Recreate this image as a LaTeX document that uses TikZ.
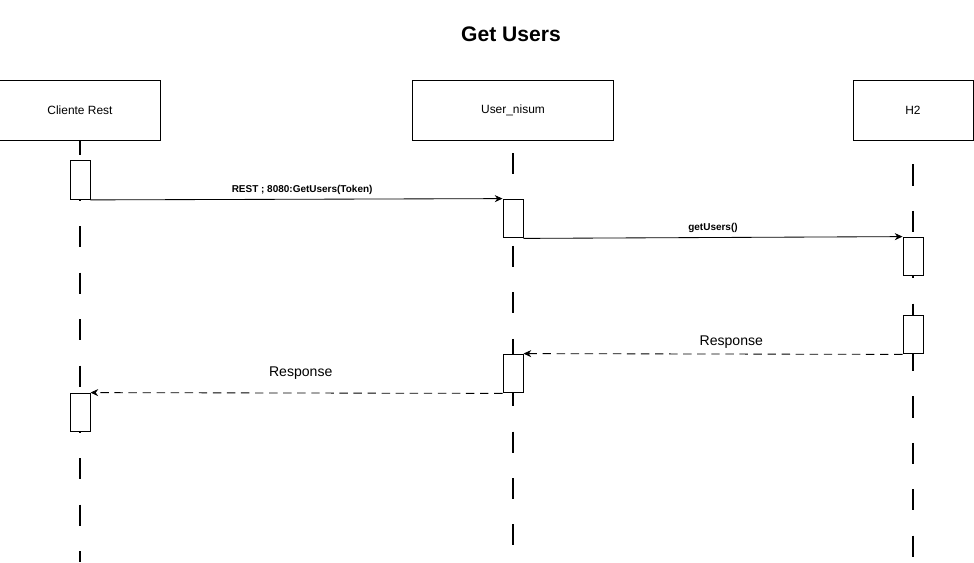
\documentclass[tikz,border=0pt]{standalone}
\usepackage{fontspec}
\setmainfont{Liberation Sans}
\usetikzlibrary{arrows.meta}
\tikzset{
    actor/.style={draw, line width=0.7pt, minimum height=1.5cm, inner sep=0pt, font=\fontsize{8.5}{10}\selectfont},
    bar/.style={draw, fill=white, line width=0.7pt, minimum width=0.5cm, minimum height=0.97cm, inner sep=0pt},
    lifeline/.style={line width=1pt, dash pattern=on 15pt off 18pt},
    msg/.style={line width=0.6pt, -{Stealth[length=5.5pt,width=5pt]}},
    reply/.style={msg, dashed, dash pattern=on 6pt off 4pt},
}

\begin{document}
\begin{tikzpicture}[x=0.025cm, y=-0.025cm]
\useasboundingbox (0,0) rectangle (974,562);
\node[font=\fontsize{15}{17}\selectfont\bfseries] (title) at (511,34) {Get Users};

\node[actor, minimum width=4cm] (cliente) at (80,110) {Cliente Rest};
\node[actor, minimum width=5cm] (user) at (513,110) {User\_nisum};
\node[actor, minimum width=3cm] (htwo) at (913,110) {H2};

\coordinate (clienteEnd) at (80,562);
\coordinate (userEnd) at (513,562);
\coordinate (htwoEnd) at (913,562);
\draw[lifeline, dash phase=5pt] (cliente.south) -- (clienteEnd);
\draw[lifeline, dash phase=-9pt] (user.south) -- (userEnd);
\draw[lifeline, dash phase=-17pt] (htwo.south) -- (htwoEnd);

\node[bar] (c1) at (80,180) {};
\node[bar] (c2) at (80,412.5) {};
\node[bar] (u1) at (513,218.5) {};
\node[bar] (u2) at (513,373.5) {};
\node[bar] (h1) at (913,256.5) {};
\node[bar] (h2) at (913,334.5) {};

\draw[msg] (c1.south east) -- (u1.north west)
    node[midway, above, xshift=4, font=\fontsize{7.1}{8}\selectfont\bfseries] {REST ; 8080:GetUsers(Token)};
\draw[msg] (u1.south east) -- (h1.north west)
    node[midway, above, font=\fontsize{7.1}{8}\selectfont\bfseries] {getUsers()};
\draw[reply] (h2.south west) -- (u2.north east)
    node[midway, above, xshift=13, font=\fontsize{10}{12}\selectfont] {Response};
\draw[reply] (u2.south west) -- (c2.north east)
    node[midway, above, yshift=6, xshift=3, font=\fontsize{10}{12}\selectfont] {Response};
\end{tikzpicture}
\end{document}
